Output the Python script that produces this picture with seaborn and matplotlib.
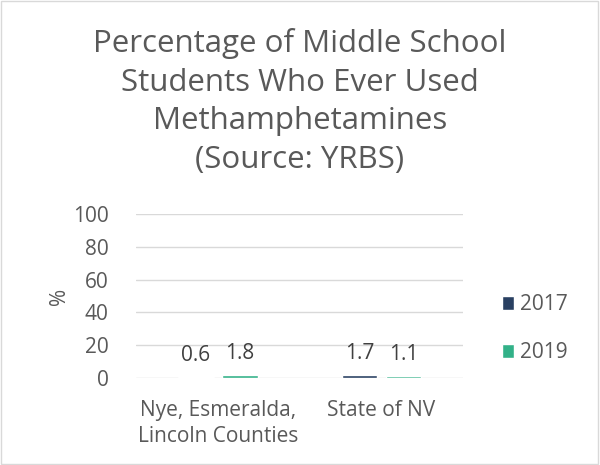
import pandas as pd
import seaborn as sns
import matplotlib.pyplot as plt
from matplotlib.patches import Rectangle

# Chart values
regions = ["Nye, Esmeralda,\nLincoln Counties", "State of NV"]
years = ["2017", "2019"]
pct_2017 = [0.6, 1.7]
pct_2019 = [1.8, 1.1]
colors = ["#1F3F6B", "#1DC690"]

df = pd.DataFrame({
    "region": regions * 2,
    "year": [years[0]] * 2 + [years[1]] * 2,
    "pct": pct_2017 + pct_2019,
})

sns.set_theme(style="white")
plt.rcParams["font.family"] = ["Open Sans", "DejaVu Sans"]
text_color = "#595959"

fig = plt.figure(figsize=(6, 4.65), dpi=100)
ax = fig.add_axes([0.227, 0.187, 0.545, 0.353])

sns.barplot(data=df, x="region", y="pct", hue="year", palette=colors,
            width=0.54, gap=0.2, ax=ax, errorbar=None)

for cont in ax.containers:
    ax.bar_label(cont, fmt="%.1f", padding=8, fontsize=15, color="#404040")

ax.set_ylim(0, 100)
ax.set_yticks(range(0, 101, 20))
ax.yaxis.grid(True, color="#D9D9D9", linewidth=1)
ax.set_axisbelow(True)
for s in ax.spines.values():
    s.set_visible(False)
ax.tick_params(axis="both", length=0, labelsize=15, colors=text_color)
ax.tick_params(axis="x", pad=16)
ax.tick_params(axis="y", pad=20)
for lbl in ax.get_xticklabels():
    lbl.set_linespacing(1.3)
ax.set_xlabel("")
ax.set_ylabel("%", fontsize=15, color=text_color, labelpad=2)

fig.suptitle("Percentage of Middle School\nStudents Who Ever Used\nMethamphetamines\n(Source: YRBS)",
             fontsize=22.5, color=text_color, y=0.94, linespacing=1.38)

leg = ax.legend(loc="center left", bbox_to_anchor=(1.06, 0.3), frameon=False,
                fontsize=15, labelcolor=text_color, handlelength=0.6,
                handleheight=0.6, labelspacing=1.3, handletextpad=0.3)

fig.patches.append(Rectangle((0.002, 0.002), 0.995, 0.995, transform=fig.transFigure,
                             fill=False, edgecolor="#D9D9D9", linewidth=1))

fig.savefig("out.png", dpi=100)
